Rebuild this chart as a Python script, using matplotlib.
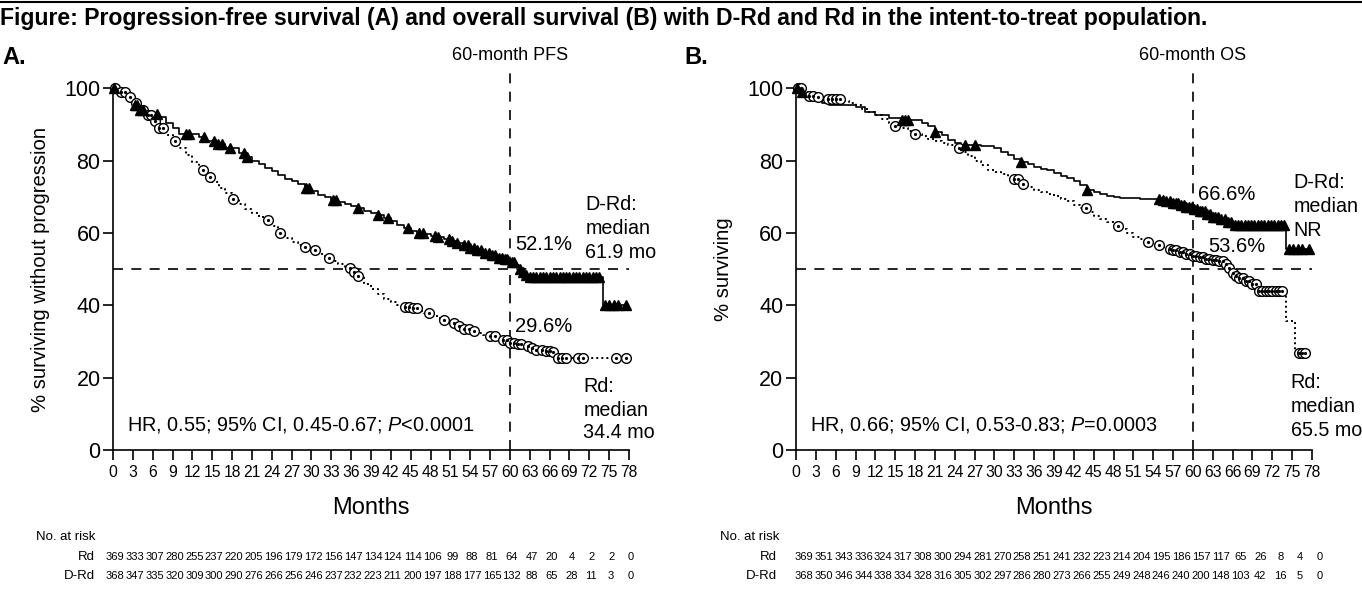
import numpy as np
import matplotlib
matplotlib.use('Agg')
import matplotlib.pyplot as plt

plt.rcParams['font.family'] = ['Liberation Sans', 'DejaVu Sans']
plt.rcParams['mathtext.fontset'] = 'custom'
plt.rcParams['mathtext.it'] = 'Liberation Sans:italic'
plt.rcParams['mathtext.rm'] = 'Liberation Sans'

# ============================================================
# Dados
# ============================================================
meses_ticks = list(range(0, 79, 3))

# --- A: PFS ---
pfs_drd_t = [0, 0.5, 1, 2, 3, 4, 5, 6, 7, 8, 9, 10, 13, 14, 15.5, 17, 19, 20, 21, 22, 23, 24, 25, 26,
             27, 28, 29, 30, 31, 32, 33, 34, 35, 36, 37, 38, 39, 40, 41, 42, 43, 44, 45, 46, 47, 48,
             49, 50, 51, 52, 53, 54, 55, 56, 57, 58, 59, 60, 60.8, 61.3, 61.8, 62.4, 63, 74]
pfs_drd_s = [100, 99.5, 99, 97.5, 95.5, 94, 93.5, 93, 92, 90.5, 89, 87.5, 86.5, 85.5, 84.5, 83.5, 82,
             81, 80, 79, 78, 77, 76, 75, 74.5, 73.5, 72.5, 71.5, 70.5, 70, 69.2, 68.5, 68, 67.5, 67,
             66.2, 65.5, 65, 64.2, 63.3, 62.3, 61.3, 60.6, 60.1, 59.7, 59.3, 58.9, 58.4, 57.9, 57.2,
             56.6, 55.8, 55.2, 54.5, 53.8, 53.2, 52.7, 52.1, 51.2, 50.0, 49.2, 48.5, 47.8, 40.0]
pfs_drd_cens = [0.2, 3.3, 3.7, 4.1, 4.5, 6.7, 11, 11.5, 13.8, 15.3, 15.8, 16.5, 17.7, 19.8, 20.3,
                29.2, 29.7, 33.2, 33.7, 37, 40, 41.5, 44.6, 46.2, 46.8, 48.6, 49.2, 50.8, 51.3, 52,
                53, 53.6, 54, 54.5, 55, 55.6, 56.2, 56.8, 57.3, 57.8, 58.3, 58.8, 59.2, 59.6, 60.3,
                60.6, 61.5, 62, 62.5, 63, 63.5, 64, 64.5, 65, 65.5, 66, 66.5, 67, 67.5, 68, 68.5,
                69, 69.5, 70, 70.5, 71, 71.5, 72, 72.5, 73, 73.5, 74.3, 75, 75.8, 76.3, 77.5]

pfs_rd_t = [0, 1, 2, 3, 4, 5, 6, 7, 8, 9, 10, 11, 12, 13, 14, 15, 16, 17, 18, 19, 20, 21, 22, 23,
            24, 25, 26, 27, 28, 29, 30, 31, 32, 33, 34, 35, 36, 37, 38, 39, 40, 41, 42, 43, 44, 45,
            46, 47, 48, 49, 50, 51, 52, 53, 54, 55, 56, 57, 58, 59, 60, 61, 62, 63, 64, 65, 66.5, 67]
pfs_rd_s = [100, 99, 97.5, 96, 94, 92.5, 91, 89, 87, 85.5, 83.5, 81.5, 79.5, 77.5, 75.5, 74, 72.5,
            71, 69.5, 68, 66.5, 65.5, 64.5, 63.5, 62, 60, 58.5, 57.5, 56.8, 56.2, 55.2, 54.2, 53,
            52.2, 51.3, 50.3, 49.3, 48, 46, 44.5, 43, 41.8, 40.8, 40, 39.6, 39.2, 38.3, 37.8, 37.2,
            36.5, 36, 35, 34.2, 33.5, 32.8, 32.3, 31.8, 31.4, 30.8, 30.3, 29.6, 29.3, 28.8, 28.3,
            27.7, 27.4, 27.0, 25.3]
pfs_rd_cens = [0.3, 1.2, 1.8, 2.5, 3.5, 4.5, 5.3, 5.8, 6.4, 7, 7.6, 9.4, 13.6, 14.7, 18.2, 23.5,
               25.2, 29, 30.6, 32.6, 35.8, 36.4, 37, 44.2, 44.8, 45.3, 45.9, 47.7, 50, 51.6, 52.3,
               53, 53.8, 54.5, 57, 57.8, 59, 59.5, 60, 60.6, 61.2, 61.7, 62.7, 63.3, 64, 64.8,
               65.5, 66, 66.5, 67.3, 67.9, 68.5, 70.3, 71, 76, 77.5]

# --- B: OS ---
os_drd_t = [0, 0.5, 1, 2, 3, 4, 5, 9, 10.5, 12, 14, 16, 19, 20, 21, 22, 23, 24, 25, 28, 30, 31, 32,
            33, 34, 35, 36, 37, 38, 39, 40, 41, 42, 43, 44, 45, 46, 47, 48, 49, 52, 55, 56, 57, 58,
            59, 60, 61, 62, 63, 64, 65, 66, 74]
os_drd_s = [100, 99, 98, 97, 96.5, 96, 95.3, 94.8, 93.5, 92.5, 91.8, 91.2, 90.4, 89.5, 88, 87, 85.8,
            85, 84.4, 84, 83.5, 82.5, 81.5, 80.5, 79.5, 79, 78.3, 77.8, 77.3, 76.5, 75.8, 75.2,
            74.5, 73.2, 72, 71.3, 70.8, 70.3, 70, 69.7, 69.5, 69.2, 68.8, 68.3, 67.8, 67.3, 66.6,
            66, 65.3, 64.5, 63.8, 63, 62.2, 55.6]
os_drd_cens = [0.2, 0.9, 16, 16.5, 17, 21, 25.5, 27, 34, 44, 54.8, 55.5, 56, 56.5, 57, 57.4, 57.8,
               58.2, 58.6, 59, 59.4, 59.8, 60.2, 60.6, 61, 61.4, 61.8, 62.2, 62.6, 63, 63.4, 63.8,
               64.3, 64.8, 65.3, 65.8, 66.3, 66.8, 67.3, 67.8, 68.3, 68.8, 69.3, 69.8, 70.3, 70.8,
               71.3, 71.8, 72.3, 72.8, 73.3, 73.8, 74.5, 75.2, 75.9, 76.5, 77.5]

os_rd_t = [0, 1, 2, 3, 4, 7, 8, 9, 10, 11, 12, 13, 14, 15, 16, 17, 18, 19, 20, 21, 22, 23, 24, 25,
           26, 27, 28, 29, 30, 31, 32, 33, 34, 35, 36, 37, 38, 39, 40, 41, 42, 43, 44, 45, 46, 47,
           48, 49, 50, 51, 52, 53, 54, 55, 56, 57, 58, 59, 60, 61, 62, 63, 64, 65, 65.5, 66, 66.5,
           67, 68, 69, 69.7, 74, 75.5]
os_rd_s = [100, 99, 98, 97.5, 97, 96.5, 96, 95.3, 94.3, 93.5, 92.5, 91.5, 90.5, 89.5, 89, 88.2,
           87.5, 86.8, 86, 85.3, 84.8, 84.2, 83.6, 82.5, 81.2, 80, 78.8, 77.5, 76.8, 76.2, 75.6, 75,
           73.5, 72.8, 72, 71.3, 70.8, 70.2, 69.5, 68.8, 67.8, 66.8, 65.8, 64.8, 63.8, 62.9, 62,
           61, 60, 59, 58.2, 57.5, 56.8, 56.2, 55.6, 55.2, 54.8, 54.3, 53.6, 53.3, 52.9, 52.5, 52.2,
           51.5, 50.3, 49, 48, 47.5, 46.8, 46, 44, 35.6, 26.8]
os_rd_cens = [0.3, 0.7, 2, 2.6, 3.3, 4.9, 5.5, 6.1, 6.7, 15, 18, 24.6, 33, 33.5, 34.3, 43.8, 48.6,
              53.2, 54.9, 56.5, 57, 57.5, 58, 58.5, 59, 59.5, 60, 60.5, 61, 61.5, 62, 62.5, 63, 63.5,
              64, 64.5, 65, 65.5, 66, 66.5, 67, 67.5, 68, 68.5, 69, 69.5, 70, 70.5, 71, 71.5, 72,
              72.5, 73, 73.5, 76, 76.5, 77]

# --- numeros em risco ---
risco_pfs_rd = [369, 333, 307, 280, 255, 237, 220, 205, 196, 179, 172, 156, 147, 134, 124, 114, 106,
                99, 88, 81, 64, 47, 20, 4, 2, 2, 0]
risco_pfs_drd = [368, 347, 335, 320, 309, 300, 290, 276, 266, 256, 246, 237, 232, 223, 211, 200,
                 197, 188, 177, 165, 132, 88, 65, 28, 11, 3, 0]
risco_os_rd = [369, 351, 343, 336, 324, 317, 308, 300, 294, 281, 270, 258, 251, 241, 232, 223, 214,
               204, 195, 186, 157, 117, 65, 26, 8, 4, 0]
risco_os_drd = [368, 350, 346, 344, 338, 334, 328, 316, 305, 302, 297, 286, 280, 273, 266, 255, 249,
                248, 246, 240, 200, 148, 103, 42, 16, 5, 0]

TITULO = ('Figure: Progression-free survival (A) and overall survival (B) with D-Rd and Rd '
          'in the intent-to-treat population.')


def surv_em(ts, ss, tc):
    idx = np.searchsorted(ts, tc, side='right') - 1
    return np.asarray(ss)[idx]


def curva_km(ax, ts, ss, cens, rd):
    fim = max(cens)
    tt = list(ts) + [fim]
    sv = list(ss) + [ss[-1]]
    yc = surv_em(ts, ss, cens)
    if rd:
        ax.step(tt, sv, where='post', color='black', lw=1.4, ls=(0, (1, 1.6)), clip_on=False, zorder=3)
        ax.plot(cens, yc, ls='none', marker='o', ms=7, mfc='white', mec='black', mew=1.0,
                clip_on=False, zorder=4)
        ax.plot(cens, yc, ls='none', marker='o', ms=1.3, color='black', clip_on=False, zorder=5)
    else:
        ax.step(tt, sv, where='post', color='black', lw=1.2, clip_on=False, zorder=3)
        ax.plot(cens, yc, ls='none', marker='^', ms=7, color='black', clip_on=False, zorder=4)


fig = plt.figure(figsize=(13.62, 5.94), dpi=100)
W, H = 1362.0, 594.0

def fx(px):
    return px / W

def fy(py):
    return 1 - py / H

def ydata(py):
    # pixel vertical -> % (eixo: 0 em y=450, 100 em y=88.3)
    return (450 - py) / 3.617

# linha no topo + titulo
fig.add_artist(plt.Line2D([0, 1], [fy(2), fy(2)], color='black', lw=1.5))
fig.text(fx(0), fy(18), TITULO, fontsize=16.6, fontweight='bold', ha='left', va='center')

paineis = [
    dict(x0=113, letra='A.', lx=2, ylabel='% surviving without progression', topo='60-month PFS',
         drd=(pfs_drd_t, pfs_drd_s, pfs_drd_cens), rd=(pfs_rd_t, pfs_rd_s, pfs_rd_cens),
         hr=r'HR, 0.55; 95% CI, 0.45-0.67; $\mathit{P}$<0.0001',
         pct=[(60.8, 245, '52.1%'), (60.8, 327, '29.6%')],
         med=[(71.4, [204, 228, 252], ['D-Rd:', 'median', '61.9 mo']),
              (71.1, [386, 410, 433], ['Rd:', 'median', '34.4 mo'])],
         risco=(risco_pfs_rd, risco_pfs_drd), rx=36, rlab=95, roff=0.3),
    dict(x0=796, letra='B.', lx=684, ylabel='% surviving', topo='60-month OS',
         drd=(os_drd_t, os_drd_s, os_drd_cens), rd=(os_rd_t, os_rd_s, os_rd_cens),
         hr=r'HR, 0.66; 95% CI, 0.53-0.83; $\mathit{P}$=0.0003',
         pct=[(60.8, 195, '66.6%'), (62.3, 247, '53.6%')],
         med=[(75.2, [183, 207, 230], ['D-Rd:', 'median', 'NR']),
              (74.8, [383, 407, 430], ['Rd:', 'median', '65.5 mo'])],
         risco=(risco_os_rd, risco_os_drd), rx=720, rlab=777, roff=1.2),
]

for p in paineis:
    ax = fig.add_axes([fx(p['x0']), fy(450), 516 / W, 361.7 / H])
    ax.set_xlim(0, 78)
    ax.set_ylim(0, 100)
    for s in ['top', 'right']:
        ax.spines[s].set_visible(False)
    for s in ['left', 'bottom']:
        ax.spines[s].set_linewidth(1.2)
    ax.set_xticks(meses_ticks)
    ax.set_yticks([0, 20, 40, 60, 80, 100])
    ax.tick_params(axis='x', direction='out', length=7, width=1.2, labelsize=11.3, pad=4)
    ax.tick_params(axis='y', direction='out', length=7, width=1.2, labelsize=15.5, pad=2)
    ax.set_xlabel('Months', fontsize=17, labelpad=12)
    ax.set_ylabel(p['ylabel'], fontsize=14.6, labelpad=10)
    ax.patch.set_alpha(0)

    # linhas de referencia
    ax.plot([0, 78], [50, 50], color='black', lw=1.2, ls=(0, (6, 5)), clip_on=False, zorder=2)
    ax.plot([60, 60], [0, 104.5], color='black', lw=1.2, ls=(0, (6, 5)), clip_on=False, zorder=2)

    curva_km(ax, *p['rd'], rd=True)
    curva_km(ax, *p['drd'], rd=False)

    ax.text(60, ydata(56), p['topo'], fontsize=13, ha='center', va='center', clip_on=False)
    ax.text(2.1, ydata(425), p['hr'], fontsize=14.3, ha='left', va='center')
    for x, py, t in p['pct']:
        ax.text(x, ydata(py), t, fontsize=14.5, ha='left', va='center', clip_on=False)
    for x, pys, linhas in p['med']:
        for py, t in zip(pys, linhas):
            ax.text(x, ydata(py), t, fontsize=14.2, ha='left', va='center', clip_on=False)

    fig.text(fx(p['lx']), fy(58), p['letra'], fontsize=17, fontweight='bold', ha='left', va='center')

    # numeros em risco
    fig.text(fx(p['rx']), fy(537), 'No. at risk', fontsize=9.5, ha='left', va='center')
    for lab, vals, yy in [('Rd', p['risco'][0], 557), ('D-Rd', p['risco'][1], 576)]:
        fig.text(fx(p['rlab']), fy(yy), lab, fontsize=9.5, ha='right', va='center')
        for m, v in zip(meses_ticks, vals):
            xd = ax.transData.transform((m + p['roff'], 0))[0]
            fig.text(xd / fig.dpi / fig.get_figwidth(), fy(yy), str(v), fontsize=8,
                     ha='center', va='center')

fig.savefig('out.png', dpi=100)
